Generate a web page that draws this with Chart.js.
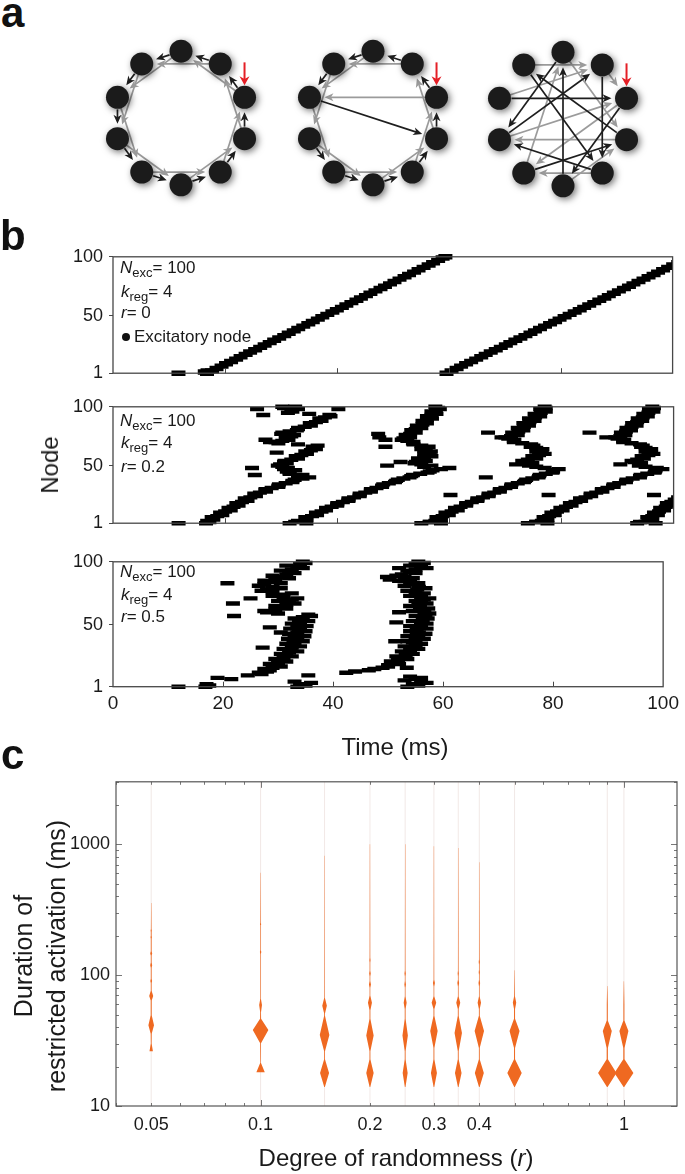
<!DOCTYPE html>
<html><head><meta charset="utf-8"><title>Restricted activation</title>
<script src="https://cdn.jsdelivr.net/npm/chart.js@4.4.1/dist/chart.umd.min.js"></script>
<style>
html,body{margin:0;padding:0;background:#fff;}
#root{position:relative;width:685px;height:1174px;overflow:hidden;font-family:"Liberation Sans",Arial,Helvetica,sans-serif;color:#1a1a1a;background:#fff;}
#root canvas{position:absolute;}
.t{position:absolute;white-space:nowrap;}
.panel{font-weight:bold;font-size:42px;line-height:42px;color:#111;}
.ann{font-size:17px;line-height:17px;}
.ann sub{font-size:13px;position:relative;top:4px;vertical-align:baseline;line-height:0;}
.title{font-size:24px;line-height:24px;}
.ctr{transform:translate(-50%,-50%);}
.rot{transform:translate(-50%,-50%) rotate(-90deg);text-align:center;}
.dot{display:inline-block;width:8px;height:8px;border-radius:50%;background:#111;margin-right:4px;position:relative;top:-1px;}
</style></head>
<body><div id="root"></div>
<script>
// ---------------- DATA ----------------
// panel a: 10 nodes, directed edges [from, to]
const nodeIds = [0,1,2,3,4,5,6,7,8,9];
const ringBlack = [[0,1],[1,2],[2,3],[3,4],[4,5],[5,6],[6,7],[7,8],[8,9],[9,0]];
const ringGray  = [[0,2],[1,3],[2,4],[3,5],[4,6],[5,7],[6,8],[7,9],[8,0],[9,1]];
const swBlack   = [[0,1],[1,2],[2,3],[3,4],[4,9],[5,6],[6,7],[7,8],[8,9],[9,0]];
const swGray    = [[0,4],[1,3],[2,4],[3,5],[4,6],[5,7],[6,8],[7,9],[8,0],[9,1]];
const rndBlack  = [[0,7],[1,8],[2,5],[3,8],[4,0],[5,1],[6,9],[7,2],[8,5],[9,3]];
const rndGray   = [[0,6],[1,0],[2,9],[3,1],[4,1],[5,0],[6,2],[7,9],[8,6],[9,5]];

// panel b: spikes [node, time ms]
const timeTicks = [0,20,40,60,80,100];
const nodeTicks = [1,50,100];
const r0Extra = [[1,11.7],[2,16.4],[3,16.9]];
const r0Wave1 = [[1,16.8],[3,17.7],[5,18.5],[7,19.4],[9,20.2],[11,21.1],[13,22.0],[15,22.8],[17,23.7],[19,24.5],[21,25.4],[23,26.3],[25,27.1],[27,28.0],[29,28.8],[31,29.7],[33,30.6],[35,31.4],[37,32.3],[39,33.1],[41,34.0],[43,34.9],[45,35.7],[47,36.6],[49,37.4],[51,38.3],[53,39.2],[55,40.0],[57,40.9],[59,41.7],[61,42.6],[63,43.5],[65,44.3],[67,45.2],[69,46.0],[71,46.9],[73,47.8],[75,48.6],[77,49.5],[79,50.3],[81,51.2],[83,52.1],[85,52.9],[87,53.8],[89,54.6],[91,55.5],[93,56.4],[95,57.2],[97,58.1],[99,58.9],[100,59.4]];
const r0Wave2 = [[1,59.6],[3,60.5],[5,61.4],[7,62.2],[9,63.1],[11,64.0],[13,64.9],[15,65.8],[17,66.6],[19,67.5],[21,68.4],[23,69.3],[25,70.2],[27,71.0],[29,71.9],[31,72.8],[33,73.7],[35,74.6],[37,75.4],[39,76.3],[41,77.2],[43,78.1],[45,79.0],[47,79.8],[49,80.7],[51,81.6],[53,82.5],[55,83.4],[57,84.2],[59,85.1],[61,86.0],[63,86.9],[65,87.8],[67,88.6],[69,89.5],[71,90.4],[73,91.3],[75,92.2],[77,93.0],[79,93.9],[81,94.8],[83,95.7],[85,96.6],[87,97.4],[89,98.3],[91,99.2],[93,100.1],[95,101.0]];

const r02Wave1 = [[1,11.7],[1,16.6],[2,17.2],[3,16.8],[5,17.8],[7,18.6],[9,19.3],[11,20],[13,20.8],[15,21.5],[17,22.2],[19,23],[21,23.7],[23,24.5],[25,25.3],[27,26.2],[29,27.2],[31,28.3],[33,29.5],[35,30.8],[37,32],[39,33.8],[40,35],[41,33],[43,31.5],[45,31],[46,32.5],[47,30.5],[49,30.2],[51,29.8],[53,30.5],[55,31.8],[57,32.8],[59,33.6],[61,34.5],[63,35.3],[65,36],[67,36.5],[69,29.5],[70,28],[71,30.2],[73,31],[75,31.8],[77,30],[79,31.5],[81,33],[83,34.2],[85,35.2],[87,36.2],[89,37],[91,37.8],[93,38.6],[95,31.2],[97,31.8],[98,33],[99,30.5],[100,32.5]];
const r02Wave1b = [[4,17.9],[6,17.6],[8,19.5],[10,19.1],[12,21],[14,20.6],[16,22.4],[18,22],[20,24],[22,23.5],[24,25.5],[26,25.2],[28,27.3],[30,27.2],[32,29.5],[34,29.6],[36,32],[38,32.4],[42,33.8],[44,31.5],[48,31.2],[50,29.4],[52,31],[54,30.6],[56,33],[58,32.6],[60,34.6],[62,34.3],[64,36.2],[66,35.6],[68,33],[70,29],[72,31.3],[74,30.8],[76,32.3],[78,30.2],[80,32.8],[82,33],[84,35.3],[86,35.1],[88,37.2],[90,36.8],[92,38.8],[94,35],[96,32],[100,30.2]];
const r02Extra1 = [[48,24.8],[42,25.3],[61,29.2],[98,25.7],[93,26.8],[98,40.2],[72,27.2]];
const r02Wave2 = [[1,31.5],[1,34.5],[3,33],[5,34.5],[7,35.5],[9,36.3],[11,37.2],[13,38],[15,39],[17,40],[19,41],[21,42],[23,43],[25,44],[27,45],[29,46],[31,47],[33,48],[35,49.2],[37,50.5],[39,51.8],[41,53.2],[43,54.8],[45,56.5],[47,58.5],[48,60],[49,55.5],[51,55],[53,54],[55,54.5],[57,55.5],[59,56.5],[61,56],[63,55.5],[65,55.8],[67,55],[69,53.5],[71,52.5],[73,51.8],[75,52.5],[77,53],[79,53.5],[81,54],[83,54.6],[85,55.2],[87,55.6],[89,56],[91,56.4],[93,56.8],[95,57.2],[97,57.6],[99,58],[100,57.5]];
const r02Wave2b = [[2,32.5],[4,34.5],[6,34.3],[8,36.4],[10,36.2],[12,38],[14,38],[16,40],[18,40],[20,42],[22,42],[24,44],[26,44],[28,46],[30,46],[32,48],[34,48.2],[36,50.3],[38,50.8],[40,52.9],[42,53.5],[44,56.1],[46,57],[50,56.8],[52,53.8],[54,55.8],[56,54.4],[58,56.8],[60,55.5],[62,56.7],[64,55],[66,56.3],[68,53.6],[70,53.6],[72,51.5],[74,53],[76,52.2],[78,54],[80,53.2],[82,55],[84,54.2],[86,56],[88,55.2],[90,56.9],[92,56],[94,57.7],[96,56.8],[98,58.3]];
const r02Extra2 = [[77,47.3],[74,47.5],[50,48.9],[53,51.3],[66,48.6],[72,48.6]];
const r02Wave3 = [[1,55],[1,58.5],[2,56.5],[3,57.5],[5,58],[7,58.8],[9,59.6],[11,60.4],[13,61.2],[15,62],[17,63],[19,64],[21,65],[23,66],[25,67],[27,68],[29,69],[31,70],[33,71],[35,72.2],[37,73.5],[39,74.8],[41,76],[43,77.2],[45,78.5],[47,79.5],[49,75.5],[51,74.5],[53,73.5],[55,74],[57,75],[59,76],[61,76.5],[63,76],[65,75.5],[67,75],[69,73],[71,71.5],[73,70.5],[75,71],[77,71.8],[79,72.3],[81,72.8],[83,73.3],[85,73.8],[87,74.3],[89,74.8],[91,75.3],[93,75.8],[95,76.3],[97,76.8],[99,77.2],[100,77]];
const r02Wave3b = [[2,56.5],[4,58.5],[6,57.7],[8,59.9],[10,59.3],[12,61.5],[14,61],[16,63],[18,63],[20,65],[22,65],[24,67],[26,67],[28,69],[30,69],[32,71],[34,71.1],[36,73.3],[38,73.7],[40,75.9],[42,76.1],[44,78.4],[46,78.5],[48,77],[50,74.2],[52,74.8],[54,73],[56,75.5],[58,74.8],[60,77],[62,75.5],[64,76.6],[66,74.5],[68,74.6],[70,71.5],[72,71.6],[74,70],[76,72.2],[78,71.2],[80,73.2],[82,72.2],[84,74.2],[86,73.2],[88,75.2],[90,74.2],[92,76.2],[94,75.2],[96,77.2],[98,76.2]];
const r02Extra3 = [[40,66.5],[25,60.2],[78,66.9],[74,69.3],[51,71.9]];
const r02Wave4 = [[1,74],[1,77.5],[2,75.5],[3,76.5],[5,77.2],[7,77.8],[9,78.5],[11,79.2],[13,80],[15,80.8],[17,81.6],[19,82.5],[21,83.4],[23,84.3],[25,85.2],[27,86.2],[29,87.2],[31,88.2],[33,89.2],[35,90.3],[37,91.5],[39,92.7],[41,94],[43,95.3],[45,96.7],[47,98],[49,95],[51,94],[53,93],[55,93.5],[57,94.5],[59,95.5],[61,96],[63,95.5],[65,95],[67,94.5],[69,92.5],[71,91],[73,90],[75,90.5],[77,91],[79,91.5],[81,92],[83,92.5],[85,93],[87,93.5],[89,94],[91,94.5],[93,95],[95,95.5],[97,96],[99,96.5],[100,96.2]];
const r02Wave4b = [[2,75.5],[4,77.5],[6,76.8],[8,78.8],[10,78.2],[12,80.2],[14,79.8],[16,81.8],[18,81.5],[20,83.5],[22,83.3],[24,85.3],[26,85.2],[28,87.3],[30,87.2],[32,89.3],[34,89.3],[36,91.5],[38,91.6],[40,94],[42,94.1],[44,96.6],[46,96.8],[48,97],[50,93.8],[52,94.2],[54,92.5],[56,94.7],[58,94.3],[60,96.4],[62,95],[64,96],[66,94.2],[68,94],[70,91],[72,91.2],[74,89.6],[76,91.4],[78,90.6],[80,92.4],[82,91.6],[84,93.4],[86,92.6],[88,94.4],[90,93.6],[92,95.4],[94,94.6],[96,96.4],[98,95.6]];
const r02Extra4 = [[25,77.7],[78,85],[74,88],[51,90.5]];
const r02Wave5 = [[1,93.5],[1,96.8],[2,95],[3,96],[5,95.5],[7,96.2],[9,96.8],[11,97.4],[13,98],[15,98.6],[17,99.2],[19,99.6],[21,100.2],[23,100.8],[25,96.5]];
const r02Wave5b = [[2,94],[4,96.2],[6,95.3],[8,97.2],[10,96.5],[12,98.3],[14,97.6],[16,99.5],[18,98.8],[20,100.5]];

const r05Wave1 = [[1,11.9],[1,16.8],[2,17.5],[3,17],[8,19],[7,21.5],[10,24.5],[11,27],[12,26.5],[13,28],[14,28.5],[16,29],[18,29.5],[20,30],[22,30.5],[24,31],[26,31.5],[28,32],[30,32.3],[32,32.5],[34,33],[36,32.8],[38,33.2],[40,33.5],[42,33],[44,33.5],[46,33.8],[48,34],[50,33.5],[52,34],[54,33.8],[56,34.5],[58,35.5],[60,28],[62,29.5],[64,30.5],[66,31.5],[68,32],[70,32.5],[72,31],[74,30],[76,29],[78,28],[80,29],[82,27.5],[84,28.5],[86,29.5],[88,30.5],[90,31.5],[92,32],[94,32.5],[96,33.5],[98,34],[100,34.5],[1,33.5],[2,35],[3,34],[4,36],[5,33],[10,35.5]];
const r05Wave1b = [[15,27.5],[17,30.5],[19,28.5],[21,31.5],[23,29.5],[25,32.5],[27,30.5],[29,33.5],[31,31],[33,34],[35,31.5],[37,34.5],[39,31.8],[41,34.8],[43,32],[45,35],[47,32.2],[49,35.2],[51,32.5],[53,35.5],[55,33],[57,36],[59,30],[61,27.5],[63,31.5],[65,29.5],[67,33],[69,30],[71,33.5],[73,29],[75,32.5],[77,27],[79,30.5],[81,26.5],[83,30.5],[85,27.5],[87,32],[89,29],[91,33],[93,30.5],[95,34.5],[97,31.5],[99,35]];
const r05Extra1 = [[57,22],[67,21.8],[71,25],[83,20.8],[32,27.2],[48,28.5],[44,30.5]];
const r05Wave2 = [[12,42.4],[14,46.5],[16,49],[18,50],[20,51],[22,51.8],[24,52.5],[26,53.2],[28,53.8],[30,54],[32,54.5],[34,55],[36,54.5],[38,55],[40,55.5],[42,55.2],[44,55.6],[46,55.2],[48,55.8],[50,56],[52,56],[54,56.3],[56,56.5],[58,56.8],[60,56.6],[62,56.2],[64,55.8],[66,55.5],[68,56],[70,56.5],[72,56],[74,55.5],[76,55],[78,55.3],[80,55.6],[82,55],[84,54],[86,53.5],[88,53],[90,52.5],[92,54],[94,55],[96,56],[98,55],[100,55.5],[1,53.5],[2,55.5],[3,54.5],[5,56],[7,55],[9,54],[16,53.4]];
const r05Wave2b = [[13,44],[15,47.5],[17,50],[19,52],[21,50.5],[23,53.5],[25,51.5],[27,54.5],[29,52.5],[31,55.5],[33,53],[35,56],[37,53.5],[39,56.5],[41,53.5],[43,56.8],[45,54],[47,57],[49,54],[51,57],[53,54.5],[55,57.2],[57,55],[59,57.5],[61,54.5],[63,57.3],[65,54],[67,57],[69,55],[71,57.5],[73,54],[75,56.5],[77,53.5],[79,56.8],[81,53],[83,55.5],[85,52],[87,54.5],[89,51.5],[91,55],[93,53.5],[95,57],[97,54],[99,56.5],[4,57],[6,53],[8,56]];
const r05Extra2 = [[86,50.3],[52,51.5],[37,51.3],[60,52],[88,49.8],[95,52]];

// panel c: violins, knots [duration ms, half width px]
const rValues = [0.05,0.1,0.15,0.2,0.25,0.3,0.35,0.4,0.5,0.9,1];
const rTicks = [0.05,0.1,0.2,0.3,0.4,1];
const durTicks = [10,100,1000];
const v005 = [[26.2,1.7],[30,0.4],[35.6,0.5],[41.4,2.8],[49.4,0.5],[64,0.5],[69.3,2],[76,0.4],[87,0.4],[90,0.9],[94,0.4],[114,0.4],[119,1.0],[125,0.4],[141,0.4],[146,1.0],[152,0.4],[190,0.4],[195,0.7],[200,0.4],[214,0.4],[219,0.6],[225,0.3],[355,0.15]];
const v010 = [[18.1,4.2],[21.4,0.3],[30.2,0.4],[38,7.8],[46.5,0.5],[52,0.4],[59,1.4],[66,0.3],[145,0.3],[150,0.7],[155,0.3],[240,0.3],[245,0.6],[250,0.3],[606,0.15]];
const v015 = [[14,0.3],[17.9,4.5],[22.8,0.4],[26.2,0.4],[34.9,4.8],[48.9,0.4],[51,0.4],[58.3,2.3],[67.2,0.3],[815,0.15]];
const v020 = [[14,0.3],[17.9,3.7],[22.8,0.4],[26.2,0.4],[34.5,3.7],[46.5,0.4],[54,0.4],[61.6,2],[70,0.3],[80,0.3],[84.7,1],[90,0.3],[98,0.3],[103,0.8],[108,0.3],[125,0.3],[130,0.6],[136,0.3],[1000,0.15]];
const v025 = [[14,0.3],[17.9,2.5],[22.8,0.4],[26.2,0.4],[34.5,2.7],[46.5,0.4],[55,0.4],[61.6,1.5],[69,0.3],[80,0.3],[84.7,0.8],[90,0.3],[98,0.3],[103,0.7],[108,0.3],[1000,0.15]];
const v030 = [[14,0.3],[17.9,3],[22.8,0.4],[27.8,0.4],[37.4,3.7],[48.9,0.4],[55,0.4],[61.6,2.3],[69,0.3],[82,0.3],[87,1],[92,0.3],[967,0.15]];
const v035 = [[14,0.3],[17.9,3.3],[22.8,0.4],[26.2,0.4],[36.1,3.7],[48.9,0.4],[55,0.4],[61.6,2],[69,0.3],[82,0.3],[87,0.9],[92,0.3],[98,0.3],[103,0.6],[108,0.3],[938,0.15]];
const v040 = [[14,0.3],[17.9,4.5],[22.8,0.4],[27.8,0.4],[37.4,4.7],[48.9,0.4],[55,0.4],[61.6,1.7],[69,0.3],[82,0.3],[87,0.8],[92,0.3],[100,0.3],[105,0.6],[110,0.3],[120,0.3],[126,0.6],[132,0.3],[727,0.15]];
const v050 = [[14,0.3],[17.9,7.2],[22.8,0.5],[27.8,0.5],[37.4,5],[46.5,0.5],[55,0.5],[61.6,1.7],[69,0.4],[109,0.15]];
const v090 = [[14,0.3],[17.9,9.2],[22.8,0.6],[27.8,0.6],[37.4,4.5],[45,0.5],[60,0.5],[82.5,0.15]];
const v100 = [[14,0.3],[17.9,9.5],[22.8,0.6],[27.8,0.6],[37.4,4.5],[45,0.5],[60,0.5],[89.7,0.15]];
const violins = [v005,v010,v015,v020,v025,v030,v035,v040,v050,v090,v100];

// ---------------- HELPERS ----------------
const root = document.getElementById('root');
const FONT = '"Liberation Sans", Arial, Helvetica, sans-serif';
function makeCanvas(left, top, w, h){
  const c = document.createElement('canvas');
  c.width = w; c.height = h;
  c.style.left = left+'px'; c.style.top = top+'px';
  c.style.width = w+'px'; c.style.height = h+'px';
  root.appendChild(c); return c;
}
function addText(html, cls, style){
  const d = document.createElement('div');
  d.className = 't '+cls; d.innerHTML = html; d.setAttribute('style', style);
  root.appendChild(d); return d;
}
const baseOpts = {responsive:false, animation:false, devicePixelRatio:1, events:[],
  plugins:{legend:{display:false}, tooltip:{enabled:false}}};

// ---------------- PANEL a ----------------
function drawArrow(ctx, x1,y1,x2,y2, color, startOff, endOff, head, halfW, lw){
  const dx=x2-x1, dy=y2-y1, L=Math.hypot(dx,dy), ux=dx/L, uy=dy/L;
  const sx=x1+ux*startOff, sy=y1+uy*startOff, ex=x2-ux*endOff, ey=y2-uy*endOff;
  ctx.strokeStyle=color; ctx.lineWidth=lw; ctx.lineCap='butt';
  ctx.beginPath(); ctx.moveTo(sx,sy); ctx.lineTo(ex-ux*head*0.6, ey-uy*head*0.6); ctx.stroke();
  ctx.fillStyle=color; ctx.beginPath();
  ctx.moveTo(ex,ey);
  ctx.lineTo(ex-ux*head-uy*halfW, ey-uy*head+ux*halfW);
  ctx.lineTo(ex-ux*head*0.72, ey-uy*head*0.72);
  ctx.lineTo(ex-ux*head+uy*halfW, ey-uy*head-ux*halfW);
  ctx.closePath(); ctx.fill();
}
const networkPlugin = {
  id:'network',
  beforeDatasetsDraw(chart, args, o){
    const ctx=chart.ctx, xs=chart.scales.x, ys=chart.scales.y;
    const pts = chart.data.datasets[0].data.map(p=>({x:xs.getPixelForValue(p.x), y:ys.getPixelForValue(p.y)}));
    ctx.save();
    o.gray.forEach(([a,b])=>drawArrow(ctx, pts[a].x,pts[a].y, pts[b].x,pts[b].y, '#9b9b9b', 10, 15, 9, 4, 1.7));
    o.black.forEach(([a,b])=>drawArrow(ctx, pts[a].x,pts[a].y, pts[b].x,pts[b].y, '#1e1e1e', 12, 15, 9, 4, 1.7));
    ctx.restore();
  },
  beforeDatasetDraw(chart){
    const ctx=chart.ctx; ctx.save();
    ctx.shadowColor='rgba(0,0,0,0.55)'; ctx.shadowBlur=7; ctx.shadowOffsetX=2; ctx.shadowOffsetY=2;
  },
  afterDatasetDraw(chart){ chart.ctx.restore(); },
  afterDatasetsDraw(chart){
    const ctx=chart.ctx, xs=chart.scales.x, ys=chart.scales.y;
    const p = chart.data.datasets[0].data[0];
    const x = xs.getPixelForValue(p.x), y = ys.getPixelForValue(p.y);
    ctx.save();
    drawArrow(ctx, x, y-35, x, y, '#e41f26', 0, 12, 9, 5, 2);
    ctx.restore();
  }
};
function networkChart(cx, cy, black, gray){
  const c = makeCanvas(cx-95, cy-95, 190, 190);
  const pts = nodeIds.map(i=>{const a=(18+36*i)*Math.PI/180; return {x:Math.cos(a), y:Math.sin(a)};});
  new Chart(c, {type:'scatter',
    data:{datasets:[{data:pts, pointRadius:11.5, pointBackgroundColor:'#1b1b1b', pointBorderWidth:0, clip:false}]},
    options:Object.assign({}, baseOpts, {layout:{padding:0},
      plugins:Object.assign({}, baseOpts.plugins, {network:{black, gray}}),
      scales:{x:{type:'linear',display:false,min:-1.25,max:1.25}, y:{type:'linear',display:false,min:-1.25,max:1.25}}}),
    plugins:[networkPlugin]});
}
networkChart(180.5, 117.5, ringBlack, ringGray);
networkChart(373, 117.5, swBlack, swGray);
networkChart(563, 118.5, rndBlack, rndGray);

// ---------------- PANEL b ----------------
const rasterBox = {id:'rasterBox', afterDatasetsDraw(chart){
  const {ctx, chartArea:a} = chart, x = chart.scales.x;
  ctx.save(); ctx.strokeStyle='#474747'; ctx.lineWidth=1.3;
  ctx.strokeRect(a.left, a.top, a.right-a.left, a.bottom-a.top);
  ctx.lineWidth=1; ctx.beginPath();
  timeTicks.slice(1,-1).forEach(v=>{const px=Math.round(x.getPixelForValue(v))+0.5; ctx.moveTo(px,a.bottom); ctx.lineTo(px,a.bottom-5);});
  ctx.stroke(); ctx.restore();
}};
function rasterChart(top, height, padTop, padBottom, showX, xH, groups, dashW){
  const c = makeCanvas(0, top, 685, height);
  const data = [].concat(...groups).map(([n,t])=>({x:t, y:n}));
  new Chart(c, {type:'scatter',
    data:{datasets:[{data, pointStyle:'line', pointRadius:7, pointBorderWidth:dashW, pointBorderColor:'#000', pointBackgroundColor:'#000', clip:{left:0,right:0,top:3,bottom:3}}]},
    options:Object.assign({}, baseOpts, {
      layout:{padding:{left:0,right:7,top:padTop,bottom:padBottom}},
      scales:{
        x:{type:'linear', min:0, max:100, display:showX,
           afterBuildTicks(s){ s.ticks = timeTicks.map(v=>({value:v})); },
           ticks:{font:{family:FONT,size:19}, color:'#1a1a1a', padding:6, maxRotation:0},
           grid:{display:false, drawTicks:false}, border:{display:false},
           afterFit(s){ s.height = xH; }},
        y:{type:'linear', min:1, max:100,
           afterBuildTicks(s){ s.ticks = nodeTicks.map(v=>({value:v})); },
           ticks:{font:{family:FONT,size:18}, color:'#1a1a1a', padding:6},
           grid:{drawOnChartArea:false, drawTicks:true, tickLength:4, color:'#474747'}, border:{display:false},
           afterFit(s){ s.width = 113; }}
      }}),
    plugins:[rasterBox]});
}
rasterChart(240, 150, 9.3, 7.7, false, 0, [r0Extra, r0Wave1, r0Wave2], 5.4);
rasterChart(390, 150, 9.3, 9.3, false, 0, [r02Wave1, r02Wave1b, r02Extra1, r02Wave2, r02Wave2b, r02Extra2, r02Wave3, r02Wave3b, r02Extra3, r02Wave4, r02Wave4b, r02Extra4, r02Wave5, r02Wave5b], 4.4);
rasterChart(545, 200, 9, 0, true, 58.3, [r05Wave1, r05Wave1b, r05Extra1, r05Wave2, r05Wave2b, r05Extra2], 4.4);

// ---------------- PANEL c ----------------
const violinPlugin = {id:'violin',
  beforeDatasetsDraw(chart){
    const {ctx, chartArea:a} = chart, xs=chart.scales.x, ys=chart.scales.y;
    ctx.save();
    rValues.forEach((r,i)=>{
      const x = xs.getPixelForValue(r);
      ctx.strokeStyle='rgba(225,205,200,0.45)'; ctx.lineWidth=1;
      ctx.beginPath(); ctx.moveTo(x, a.top); ctx.lineTo(x, a.bottom); ctx.stroke();
      const k = violins[i];
      ctx.fillStyle='#ef6921';
      ctx.beginPath();
      k.forEach(([v,hw],j)=>{const y=ys.getPixelForValue(v); if(j===0) ctx.moveTo(x-hw,y); else ctx.lineTo(x-hw,y);});
      for(let j=k.length-1;j>=0;j--){const y=ys.getPixelForValue(k[j][0]); ctx.lineTo(x+k[j][1],y);}
      ctx.closePath(); ctx.fill();
    });
    ctx.restore();
  },
  afterDatasetsDraw(chart){
    const {ctx, chartArea:a} = chart, xs=chart.scales.x, ys=chart.scales.y;
    ctx.save(); ctx.strokeStyle='#555'; ctx.lineWidth=1.2;
    ctx.strokeRect(a.left, a.top, a.right-a.left, a.bottom-a.top);
    ctx.lineWidth=0.8; ctx.beginPath();
    [0.01,0.1,1].forEach(dec=>[1,2,3,4,5,6,7,8,9].forEach(m=>{
      const v=dec*m; if(v<0.04||v>1.4) return;
      const px=Math.round(xs.getPixelForValue(v))+0.5, L=(m===1)?6:3;
      ctx.moveTo(px,a.bottom); ctx.lineTo(px,a.bottom-L); ctx.moveTo(px,a.top); ctx.lineTo(px,a.top+L);
    }));
    [10,100,1000].forEach(dec=>[1,2,3,4,5,6,7,8,9].forEach(m=>{
      const v=dec*m; if(v>3000) return;
      const py=Math.round(ys.getPixelForValue(v))+0.5, L=(m===1)?6:3;
      ctx.moveTo(a.left,py); ctx.lineTo(a.left+L,py); ctx.moveTo(a.right,py); ctx.lineTo(a.right-L,py);
    }));
    ctx.stroke(); ctx.restore();
  }
};
(function(){
  const c = makeCanvas(0, 765, 685, 409);
  new Chart(c, {type:'scatter', data:{datasets:[]},
    options:Object.assign({}, baseOpts, {
      layout:{padding:{left:0,right:8,top:10,bottom:0}},
      scales:{
        x:{type:'logarithmic', min:0.04, max:1.4,
           afterBuildTicks(s){ s.ticks = rTicks.map(v=>({value:v})); },
           ticks:{font:{family:FONT,size:18}, color:'#1a1a1a', padding:8, maxRotation:0, autoSkip:false, callback:(v)=>String(v)},
           grid:{display:false, drawTicks:false}, border:{display:false},
           afterFit(s){ s.height = 68; }},
        y:{type:'logarithmic', min:10, max:3000,
           afterBuildTicks(s){ s.ticks = durTicks.map(v=>({value:v})); },
           ticks:{font:{family:FONT,size:18}, color:'#1a1a1a', padding:6, autoSkip:false, callback:(v)=>String(v)},
           grid:{display:false, drawTicks:false}, border:{display:false},
           afterFit(s){ s.width = 116; }}
      }}),
    plugins:[violinPlugin]});
})();

// ---------------- TEXT ----------------
addText('a','panel','left:1px;top:-8px');
addText('b','panel','left:0px;top:215px');
addText('c','panel','left:1px;top:734px');
function annot(top0, rVal, extra){
  addText('<i>N</i><sub>exc</sub>= 100','ann','left:120px;top:'+top0[0]+'px');
  addText('<i>k</i><sub>reg</sub>= 4','ann','left:121px;top:'+top0[1]+'px');
  addText('<i>r</i>= '+rVal,'ann','left:121px;top:'+top0[2]+'px');
  if(extra) addText('<span class="dot"></span>Excitatory node','ann','left:122px;top:'+top0[3]+'px');
}
annot([259,283,304,328], '0', true);
annot([412,434,458], '0.2', false);
annot([563,586,608], '0.5', false);
addText('Node','title rot','left:50px;top:465px');
addText('Time (ms)','title ctr','left:395px;top:747px');
addText('Degree of randomness (<i>r</i>)','title ctr','left:396px;top:1158px');
addText('Duration of<br>restricted activation (ms)','rot','left:40px;top:956px;font-size:25px;line-height:33px');
</script>
</body></html>
